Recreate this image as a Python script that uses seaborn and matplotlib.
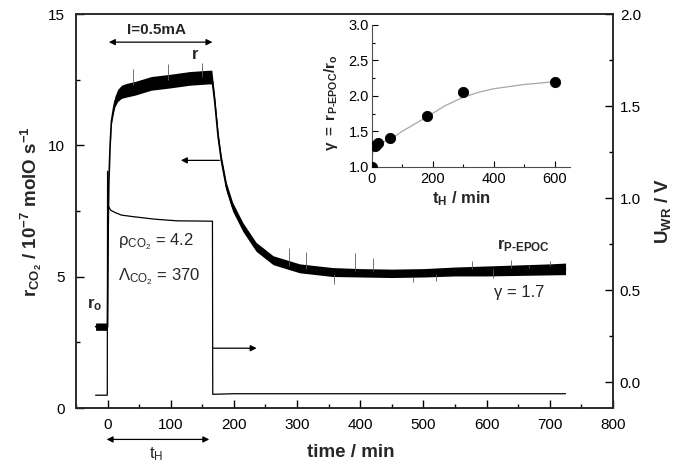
import numpy as np
import pandas as pd
import matplotlib
matplotlib.use("Agg")
import matplotlib.pyplot as plt
from matplotlib.ticker import MultipleLocator, FormatStrFormatter
import seaborn as sns

# rate trace r_CO2 (10^-7 molO/s)
rate_t = [-19, -10, -1, 0, 0.5, 1, 2, 4, 6, 9, 11.5, 16, 22, 30, 43, 69, 100, 130, 160, 165,
          169.5, 175, 180, 188, 198, 214, 235, 262, 304, 356, 400, 450, 500, 550, 600, 650, 700, 725]
rate = [3.1, 3.1, 3.1, 3.1, 5.0, 7.0, 8.6, 10.0, 10.9, 11.35, 11.66, 11.9, 12.04, 12.1, 12.17, 12.36, 12.45, 12.55, 12.6, 12.6,
        11.7, 10.33, 9.44, 8.42, 7.66, 6.9, 6.14, 5.63, 5.32, 5.18, 5.15, 5.13, 5.15, 5.2, 5.22, 5.25, 5.28, 5.3]
# half width of the noise band
rate_noise = [0.14, 0.14, 0.14, 0.03, 0.01, 0.01, 0.01, 0.03, 0.09, 0.16, 0.2, 0.23, 0.25, 0.26, 0.26, 0.26, 0.26, 0.26, 0.26, 0.26,
              0.2, 0.17, 0.17, 0.17, 0.17, 0.17, 0.17, 0.17, 0.17, 0.17, 0.16, 0.16, 0.16, 0.17, 0.19, 0.2, 0.21, 0.22]

# single spikes sticking out of the band
spike_t = [40, 95, 150, 288, 314, 359, 392, 420, 483, 520, 577, 610, 638, 667, 700]
spike_base = [12.3, 12.5, 12.6, 5.4, 5.3, 5.1, 5.2, 5.2, 5.0, 5.1, 5.3, 5.3, 5.35, 5.35, 5.4]
spike_top = [12.9, 13.1, 13.15, 6.1, 5.95, 4.74, 5.9, 5.7, 4.8, 4.85, 5.6, 4.95, 5.62, 5.45, 5.6]

# working electrode potential U_WR (V)
u_t = [-19, -0.5, 0, 0.4, 1.3, 4.8, 11.8, 22, 39.6, 74.6, 110, 140, 166, 166.5, 200, 725]
u_wr = [-0.07, -0.07, 1.146, 0.98, 0.957, 0.935, 0.922, 0.908, 0.90, 0.886, 0.877, 0.876, 0.875, -0.065, -0.062, -0.062]

# inset: gamma vs t_H
th_pts = [0, 10, 15, 20, 60, 180, 300, 600]
gamma_pts = [1.0, 1.29, 1.31, 1.34, 1.41, 1.715, 2.05, 2.19]
fit_t = [0, 2, 5, 10, 20, 40, 60, 100, 140, 180, 240, 300, 350, 400, 500, 600]
fit_g = [1.0, 1.15, 1.24, 1.28, 1.31, 1.35, 1.38, 1.5, 1.6, 1.7, 1.86, 1.98, 2.05, 2.1, 2.16, 2.2]

sns.set_style("ticks")
plt.rcParams['font.family'] = ['Liberation Sans', 'DejaVu Sans']
plt.rcParams['mathtext.fontset'] = 'custom'
plt.rcParams['mathtext.rm'] = 'Liberation Sans'
plt.rcParams['mathtext.it'] = 'Liberation Sans:italic'
plt.rcParams['mathtext.bf'] = 'Liberation Sans:bold'
plt.rcParams['axes.linewidth'] = 1.1

df_rate = pd.DataFrame({'t': rate_t, 'r': rate, 'n': rate_noise})
df_u = pd.DataFrame({'t': u_t, 'u': u_wr})

fig = plt.figure(figsize=(6.75, 4.68), dpi=100)
ax = fig.add_axes([0.1126, 0.128, 0.7954, 0.842])
ax2 = ax.twinx()

ax.fill_between(df_rate['t'], df_rate['r'] - df_rate['n'], df_rate['r'] + df_rate['n'],
                color='black', lw=0)
sns.lineplot(data=df_rate, x='t', y='r', ax=ax, color='black', lw=1.2, sort=False, estimator=None)
ax.vlines(spike_t, spike_base, spike_top, color='0.35', lw=0.6)
sns.lineplot(data=df_u, x='t', y='u', ax=ax2, color='black', lw=0.9, sort=False, estimator=None)

ax.set_xlim(-50, 800)
ax.set_ylim(0, 15)
ax2.set_ylim(-0.14, 2.0)
ax.set_xticks([0, 100, 200, 300, 400, 500, 600, 700, 800])
ax.xaxis.set_minor_locator(MultipleLocator(50))
ax.yaxis.set_major_locator(MultipleLocator(5))
ax.yaxis.set_minor_locator(MultipleLocator(2.5))
ax2.yaxis.set_major_locator(MultipleLocator(0.5))
ax2.yaxis.set_minor_locator(MultipleLocator(0.25))
ax2.yaxis.set_major_formatter(FormatStrFormatter('%.1f'))

for a in (ax, ax2):
    a.tick_params(which='both', direction='in', width=1, labelsize=11, colors='black')
    a.tick_params(which='major', length=5.5)
    a.tick_params(which='minor', length=3)
ax.tick_params(axis='y', pad=8)
ax.tick_params(axis='x', pad=7)
ax2.tick_params(axis='y', pad=5)

ax.set_xlabel('time / min', fontsize=13.5, fontweight='bold')
ax.xaxis.set_label_coords(0.512, -0.09)
ax.set_ylabel(r'$\mathbf{r_{CO_2}\ /\ 10^{-7}\ molO\ s^{-1}}$', fontsize=13.5)
ax.yaxis.set_label_coords(-0.06, 0.5)
ax2.set_ylabel(r'$\mathbf{U_{WR}\ /\ V}$', fontsize=13.5)
ax2.yaxis.set_label_coords(1.075, 0.5)

# annotations
arrow = dict(arrowstyle='<|-|>', color='black', lw=0.9, mutation_scale=9, shrinkA=0, shrinkB=0)
one_way = dict(arrowstyle='-|>', color='black', lw=0.9, mutation_scale=9, shrinkA=0, shrinkB=0)
ax.annotate('', xy=(2, 13.93), xytext=(166, 13.93), arrowprops=arrow)
ax.text(78, 14.4, 'I=0.5mA', fontsize=11, fontweight='bold', ha='center', va='center')
ax.text(139, 13.45, 'r', fontsize=12, fontweight='bold', ha='center', va='center')
ax.annotate('', xy=(116, 9.43), xytext=(177, 9.43), arrowprops=one_way)
ax.annotate('', xy=(236, 2.28), xytext=(167, 2.28), arrowprops=one_way)
ax.text(16, 6.35, r'$\mathrm{ρ_{CO_2}}$ = 4.2', fontsize=12, ha='left', va='center')
ax.text(16, 5.0, r'$\mathrm{Λ_{CO_2}}$ = 370', fontsize=12, ha='left', va='center')
ax.text(-33, 3.95, r'$\mathbf{r_o}$', fontsize=12, ha='left', va='center')
ax.text(616, 6.2, r'$\mathbf{r_{P‐EPOC}}$', fontsize=12, ha='left', va='center')
ax.text(612, 4.4, 'γ = 1.7', fontsize=12, ha='left', va='center')

tr = ax.get_xaxis_transform()
ax.annotate('', xy=(-1.5, -0.0795), xytext=(161, -0.0795), xycoords=tr, textcoords=tr,
            arrowprops=arrow, annotation_clip=False)
ax.text(77, -0.118, r'$\mathrm{t_H}$', transform=tr, fontsize=12, ha='center', va='center')

# inset
axi = fig.add_axes([0.5507, 0.6438, 0.2937, 0.3028])
axi.patch.set_alpha(0)
sns.lineplot(x=fit_t, y=fit_g, ax=axi, color='0.65', lw=0.9, sort=False, estimator=None)
sns.scatterplot(x=th_pts, y=gamma_pts, ax=axi, color='black', s=55, edgecolor='black', zorder=3, clip_on=True)
axi.set_xlim(0, 650)
axi.set_ylim(1.0, 3.0)
axi.xaxis.set_major_locator(MultipleLocator(200))
axi.xaxis.set_minor_locator(MultipleLocator(100))
axi.yaxis.set_major_locator(MultipleLocator(0.5))
axi.yaxis.set_minor_locator(MultipleLocator(0.25))
axi.yaxis.set_major_formatter(FormatStrFormatter('%.1f'))
axi.spines['top'].set_visible(False)
axi.spines['right'].set_visible(False)
for s in ('left', 'bottom'):
    axi.spines[s].set_linewidth(0.8)
    axi.spines[s].set_color('0.3')
axi.tick_params(which='both', direction='in', width=0.8, labelsize=10.5, colors='black')
axi.tick_params(which='major', length=4)
axi.tick_params(which='minor', length=2)
axi.tick_params(axis='y', pad=2)
axi.tick_params(axis='x', pad=4)
axi.set_xlabel(r'$\mathbf{t_H\ /\ min}$', fontsize=12)
axi.xaxis.set_label_coords(0.455, -0.16)
axi.set_ylabel(r'$\mathbf{γ\ =\ r_{P‐EPOC}/r_o}$', fontsize=11)
axi.yaxis.set_label_coords(-0.16, 0.45)

fig.savefig('out.png', dpi=100)
